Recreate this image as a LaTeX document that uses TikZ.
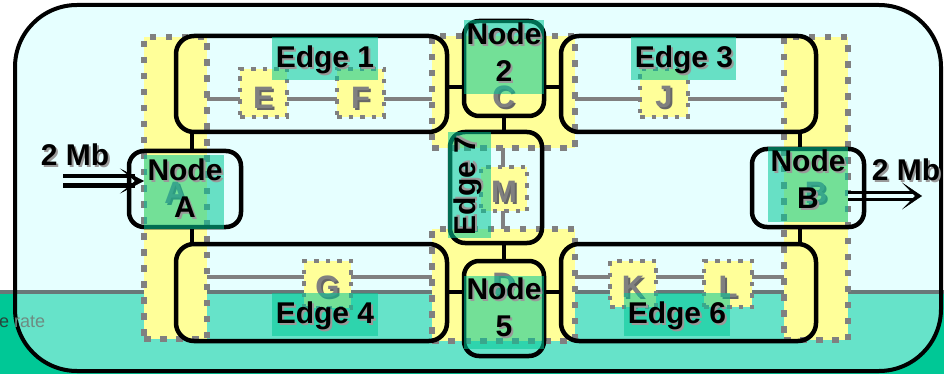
\documentclass[tikz,border=0pt]{standalone}
\usepackage{fontspec}
\setmainfont{Liberation Sans}
\usetikzlibrary{arrows.meta}
\definecolor{bgcyan}{RGB}{230,255,255}
\definecolor{bandin}{RGB}{102,227,201}
\definecolor{bandout}{RGB}{0,200,150}
\definecolor{ylw}{RGB}{255,255,153}
\definecolor{tealbox}{RGB}{0,200,150}
\definecolor{dotgray}{RGB}{128,128,128}
\definecolor{bandline}{RGB}{105,120,120}
\definecolor{erA}{RGB}{40,70,60}
\definecolor{erB}{RGB}{110,140,130}
\newcommand\shd[2][black!40]{\rlap{\kern2pt\raisebox{-2pt}{\textcolor{#1}{#2}}}#2}
\newcommand\bigfont{\bfseries\fontsize{30}{37}\selectfont}
\newcommand\letfont{\bfseries\fontsize{31}{36}\selectfont}
\begin{document}
\begin{tikzpicture}[x=1pt,y=-1pt,
  every node/.style={outer sep=0pt,inner sep=0pt},
  ybig/.style={rectangle,fill=ylw,draw=dotgray,line width=6.5pt,dash pattern=on 6.5pt off 9.5pt,text=dotgray,font=\letfont},
  ysmall/.style={rectangle,fill=ylw,draw=dotgray,line width=4.5pt,dash pattern=on 4.5pt off 7pt,text=dotgray,font=\letfont},
  edgebox/.style={rectangle,draw=black,line width=4.5pt,rounded corners=18pt},
  nodebox/.style={rectangle,draw=black,line width=4.5pt,rounded corners=15pt},
  tealfill/.style={rectangle,fill=tealbox,fill opacity=0.55},
  lbl/.style={font=\bigfont,text=black,align=center},
  glink/.style={draw=dotgray,line width=3.3pt},
  blink/.style={draw=black,line width=3.5pt},
  dblarrow/.style={draw=black,line width=#1,double=bgcyan},
]
\useasboundingbox (0,0) rectangle (944,374);
% background and band
\fill[white] (0,0) rectangle (944,374);
\fill[bandout] (0,292) rectangle (944,374);
\fill[bgcyan,rounded corners=62pt] (15,5) rectangle (941,371);
\begin{scope}
  \clip[rounded corners=62pt] (15,5) rectangle (941,371);
  \fill[bandin] (0,292) rectangle (944,374);
\end{scope}
\draw[bandline,line width=3.3pt] (0,292) -- (944,292);
\draw[black,line width=4pt,rounded corners=62pt] (15,5) rectangle (941,371);
\node[anchor=base west,font=\fontsize{18}{20}\selectfont] (rate) at (-1,327) {\textcolor{erA}{e} \textcolor{erB}{rate}};

% yellow dotted boxes with letters
\node[ybig,minimum width=63pt,minimum height=302pt,text height=30.2pt,text depth=0pt] (cL) at (175.5,188) {\shd[black!60]{A}};
\node[ybig,minimum width=64pt,minimum height=303pt,text height=30.2pt,text depth=0pt] (cR) at (816,188.5) {\shd[black!60]{B}};
\node[ybig,minimum width=143pt,minimum height=112pt,text height=30.2pt,text depth=0pt] (cT) at (503.5,92) {\shd[black!60]{C}};
\node[ybig,minimum width=143pt,minimum height=112pt,text height=18.2pt,text depth=0pt] (cB) at (503.5,285) {\shd[black!60]{D}};
\node[ysmall,minimum width=47pt,minimum height=48pt,text height=30.2pt,text depth=0pt] (bE) at (263.5,93) {\shd[black!60]{E}};
\node[ysmall,minimum width=47pt,minimum height=48pt,text height=30.2pt,text depth=0pt] (bF) at (360.5,93) {\shd[black!60]{F}};
\node[ysmall,minimum width=48pt,minimum height=48pt,text height=28.2pt,text depth=0pt] (bJ) at (664,93) {\shd[black!60]{J}};
\node[ysmall,minimum width=46pt,minimum height=44pt,text height=26.2pt,text depth=0pt] (bM) at (504,189) {\shd[black!60]{M}};
\node[ysmall,minimum width=47pt,minimum height=47pt,text height=25.2pt,text depth=0pt] (bG) at (327.5,284.5) {\shd[black!60]{G}};
\node[ysmall,minimum width=46pt,minimum height=46pt,text height=26.2pt,text depth=0pt] (bK) at (633,284) {\shd[black!60]{K}};
\node[ysmall,minimum width=48pt,minimum height=46pt,text height=26.2pt,text depth=0pt] (bL) at (728,284) {\shd[black!60]{L}};

% gray links
\coordinate (g1) at (0,99);
\coordinate (g2) at (0,277);
\coordinate (gx) at (503,0);
\draw[glink] (cL.east |- g1) -- (bE.west |- g1);
\draw[glink] (bE.east |- g1) -- (bF.west |- g1);
\draw[glink] (bF.east |- g1) -- (cT.west |- g1);
\draw[glink] (cT.east |- g1) -- (bJ.west |- g1);
\draw[glink] (bJ.east |- g1) -- (cR.west |- g1);
\draw[glink] (cT.south -| gx) -- (bM.north -| gx);
\draw[glink] (bM.south -| gx) -- (cB.north -| gx);
\draw[glink] (cL.east |- g2) -- (bG.west |- g2);
\draw[glink] (bG.east |- g2) -- (cB.west |- g2);
\draw[glink] (cB.east |- g2) -- (bK.west |- g2);
\draw[glink] (bK.east |- g2) -- (bL.west |- g2);
\draw[glink] (bL.east |- g2) -- (cR.west |- g2);

% double arrows
\coordinate (inL) at (63,181);
\coordinate (outR) at (922,196);
\draw[dblarrow=4pt,double distance=5pt,-{Stealth[length=24pt,width=25pt,inset=15pt,line width=0.5pt]}] (inL) -- (cL.west |- inL);
\draw[dblarrow=3.5pt,double distance=3.5pt,-{Stealth[length=20pt,width=27pt,inset=13pt,line width=0.5pt]}] (cR.east |- outR) -- (outR);

% black rounded boxes
\node[edgebox,minimum width=271pt,minimum height=96pt] (e1) at (311.5,84) {};
\node[edgebox,minimum width=255pt,minimum height=96pt] (e3) at (688.5,84) {};
\node[edgebox,minimum width=271pt,minimum height=97pt] (e4) at (311.5,292.5) {};
\node[edgebox,minimum width=255pt,minimum height=97pt] (e6) at (688.5,292.5) {};
\node[nodebox,minimum width=112pt,minimum height=76pt] (nA) at (185,189) {};
\node[nodebox,minimum width=112pt,minimum height=78pt] (nB) at (808,188) {};
\node[nodebox,minimum width=80pt,minimum height=95pt] (n2) at (504,68.5) {};
\node[nodebox,minimum width=80pt,minimum height=95pt] (n5) at (504,308.5) {};
\node[nodebox,minimum width=92pt,minimum height=111pt] (e7) at (496,187.5) {};

% black links
\coordinate (xa) at (192,0);
\coordinate (xb) at (800,0);
\coordinate (xm) at (504,0);
\coordinate (y1) at (0,87);
\coordinate (y5) at (0,292);
\draw[blink] (nA.north -| xa) -- (e1.south -| xa);
\draw[blink] (nA.south -| xa) -- (e4.north -| xa);
\draw[blink] (nB.north -| xb) -- (e3.south -| xb);
\draw[blink] (nB.south -| xb) -- (e6.north -| xb);
\draw[blink] (e1.east |- y1) -- (n2.west |- y1);
\draw[blink] (n2.east |- y1) -- (e3.west |- y1);
\draw[blink] (n2.south -| xm) -- (e7.north -| xm);
\draw[blink] (e7.south -| xm) -- (n5.north -| xm);
\draw[blink] (e4.east |- y5) -- (n5.west |- y5);
\draw[blink] (n5.east |- y5) -- (e6.west |- y5);

% teal label boxes
\node[tealfill,minimum width=106pt,minimum height=43pt] (lE1) at (325,58.5) {};
\node[tealfill,minimum width=105pt,minimum height=43pt] (lE3) at (683.5,58.5) {};
\node[tealfill,minimum width=106pt,minimum height=43pt] (lE4) at (325,314.5) {};
\node[tealfill,minimum width=106pt,minimum height=43pt] (lE6) at (677,314.5) {};
\node[tealfill,minimum width=80pt,minimum height=74pt] (lN2) at (504,57) {};
\node[tealfill,minimum width=80pt,minimum height=73pt] (lN5) at (504,312.5) {};
\node[tealfill,minimum width=80pt,minimum height=74pt] (lNA) at (184,192) {};
\node[tealfill,minimum width=80pt,minimum height=75pt] (lNB) at (808,184.5) {};
\node[tealfill,minimum width=43pt,minimum height=106pt] (lE7) at (469.5,185) {};

% texts
\node[lbl,anchor=base] (tE1) at (325,68) {\shd{Edge 1}};
\node[lbl,anchor=base] (tE3) at (684,68) {\shd{Edge 3}};
\node[lbl,anchor=base] (tE4) at (325,323) {\shd{Edge 4}};
\node[lbl,anchor=base] (tE6) at (677,323) {\shd{Edge 6}};
\node[lbl] (tN2) at (504,53.5) {\shd{Node}\\\shd{2}};
\node[lbl] (tN5) at (504,308) {\shd{Node}\\\shd{5}};
\node[lbl] (tNA) at (185,189) {\shd{Node}\\\shd{A}};
\node[lbl] (tNB) at (808,180.5) {\shd{Node}\\\shd{B}};
\node[lbl,rotate=90] (tE7) at (469,186) {\shd{Edge 7}};
\node[lbl,anchor=base] (mbL) at (75,165) {\shd{2 Mb}};
\node[lbl,anchor=base] (mbR) at (906,180) {\shd{2 Mb}};
\end{tikzpicture}
\end{document}
